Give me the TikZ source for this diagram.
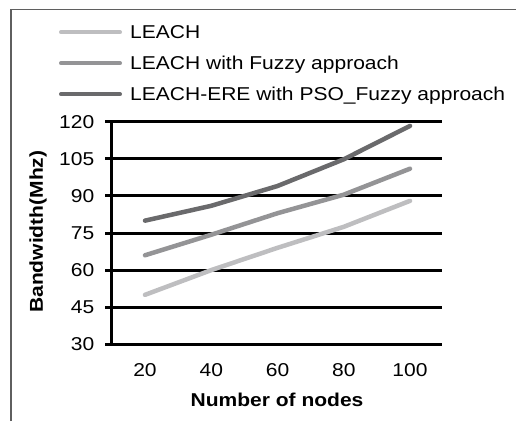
\documentclass[tikz,border=0pt]{standalone}
\usepackage{fontspec}
\setmainfont{Liberation Sans}[FakeStretch=1.13]
\definecolor{serA}{RGB}{190,190,192}
\definecolor{serB}{RGB}{148,148,150}
\definecolor{serC}{RGB}{106,106,108}
\definecolor{framegray}{RGB}{95,95,95}
\begin{document}
\begin{tikzpicture}[x=1pt,y=-1pt,
  every node/.style={inner sep=0pt,font=\fontsize{18.6}{22}\selectfont},
  gridline/.style={line width=3pt,black},
  series/.style={line width=4.5pt,line cap=round,line join=round},
  keyline/.style={line width=4pt,line cap=round},
  ticklab/.style={anchor=base east},
  xlab/.style={anchor=base},
  axtitle/.style={font=\fontsize{18.6}{22}\selectfont\bfseries}]
\useasboundingbox (0,0) rectangle (516,421);
% frame (top and left edges)
\coordinate (frameTL) at (11,9.3);
\coordinate (frameTR) at (516,9.3);
\coordinate (frameBL) at (11,421);
\draw[framegray,line width=1.5pt] (frameBL) -- (frameTL) -- (frameTR);

% legend
\foreach \i/\c/\t [count=\k] in {0/serA/LEACH,1/serB/LEACH with Fuzzy approach,2/serC/LEACH-ERE with PSO\_Fuzzy approach}{
  \coordinate (k\k a) at (61,32.3+31*\i);
  \coordinate (k\k b) at (120,32.3+31*\i);
  \draw[keyline,\c] (k\k a) -- (k\k b);
  \node[anchor=base west] (leg\k) at (130,38.6+31*\i) {\t};
}

% horizontal grid lines and y tick labels
\foreach \v [count=\k] in {30,45,60,75,90,105,120}{
  \coordinate (gl\k) at (105,{344.3-(\v-30)*2.4733});
  \coordinate (gr\k) at (441.7,{344.3-(\v-30)*2.4733});
  \draw[gridline] (gl\k) -- (gr\k);
  \node[ticklab] (yt\k) at (94.5,{344.3-(\v-30)*2.4733+6.6}) {\v};
}
% vertical axis
\coordinate (axB) at (111.7,345.8);
\coordinate (axT) at (111.7,120.2);
\draw[line width=3pt,black] (axB) -- (axT);

% x tick labels
\foreach \n [count=\k] in {20,40,60,80,100}{
  \node[xlab] (xt\k) at ({145+66.25*(\k-1)},376.7) {\n};
}

% axis titles
\node[axtitle,anchor=base] (xtitle) at (277,406) {Number of nodes};
\node[axtitle,rotate=90] (ytitle) at (38,231.7) {Bandwidth(Mhz)};

% data series
\foreach \name/\c/\vals in {A/serA/{50,60,69,77.5,88},B/serB/{66,74.3,83,90.5,101},C/serC/{80,86,94,104.8,118.3}}{
  \foreach \v [count=\k] in \vals {
    \coordinate (\name\k) at ({145+66.25*(\k-1)},{344.3-(\v-30)*2.4733});
  }
  \draw[series,\c] (\name1) -- (\name2) -- (\name3) -- (\name4) -- (\name5);
}
\end{tikzpicture}
\end{document}
